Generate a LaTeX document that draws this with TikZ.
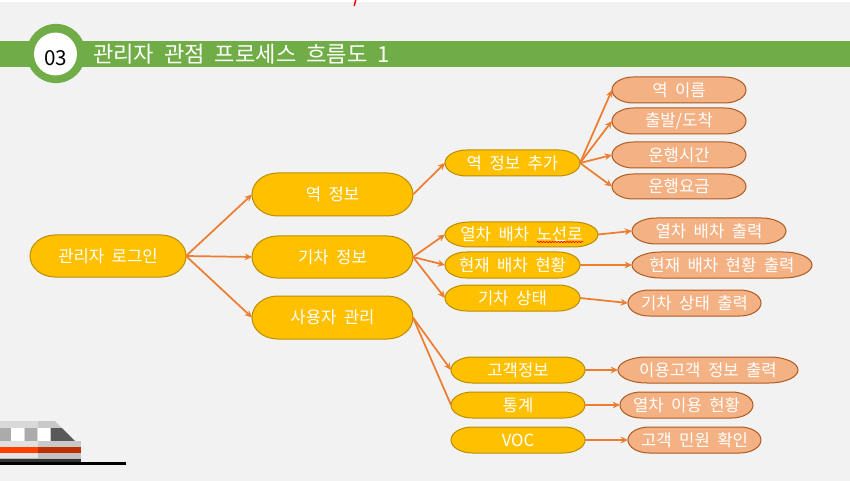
\documentclass[tikz,border=0pt]{standalone}
\usepackage{fontspec}
\setmainfont[WordSpace=2]{Noto Sans CJK KR}
\usetikzlibrary{arrows.meta,decorations.pathmorphing}
\definecolor{bg}{HTML}{F2F2F2}
\definecolor{barg}{HTML}{70AD47}
\definecolor{gold}{HTML}{FFC000}
\definecolor{goldl}{HTML}{BC8C00}
\definecolor{peach}{HTML}{F4B183}
\definecolor{peachl}{HTML}{AE5A21}
\definecolor{link}{HTML}{ED7D31}
\tikzset{
  pilltext/.style={rectangle,outer sep=0pt,inner sep=0pt,text=white,font=\fontsize{12.5pt}{14pt}\selectfont},
  goldfill/.style={fill=gold,draw=goldl,line width=0.75pt},
  peachfill/.style={fill=peach,draw=peachl,line width=0.75pt},
  conn/.style={draw=link,line width=1.3pt,-{Stealth[length=5.5pt,width=5pt]}},
  plainconn/.style={draw=link,line width=1.3pt},
}
% terminator: elliptical ends, arc radius 16% of the width
% args: style, name, cx, cy, w, h, text
\newcommand{\termnode}[7]{%
  \pgfmathsetmacro{\tw}{#5/2}\pgfmathsetmacro{\th}{#6/2}\pgfmathsetmacro{\tr}{#5*0.16}%
  \pgfmathsetmacro{\tin}{\tw-\tr}%
  \draw[#1] (#3-\tin,#4-\th) -- (#3+\tin,#4-\th)
     arc[start angle=-90,end angle=90,x radius=\tr*0.75pt,y radius=-\th*0.75pt]
     -- (#3-\tin,#4+\th)
     arc[start angle=90,end angle=270,x radius=\tr*0.75pt,y radius=-\th*0.75pt] -- cycle;
  \node[pilltext,minimum width=#5*0.75pt,minimum height=#6*0.75pt] (#2) at (#3,#4) {#7};
}
\begin{document}
\begin{tikzpicture}[x=0.75pt,y=-0.75pt]
\useasboundingbox (0,0) rectangle (850,481);
\fill[bg] (0,0) rectangle (850,481);
\fill[white] (0,0) rectangle (850,2);
\draw[red,line width=1.1pt] (355.8,0) -- (354.2,6);
% title
\fill[barg] (0,41) rectangle (850,67);
\fill[barg] (56,53.5) circle[radius=22.2pt];
\fill[white] (55.5,54) circle[radius=16.1pt];
\node[text=black,font=\fontsize{15.5pt}{16pt}\selectfont,inner sep=0pt] (num) at (55.5,58.5) {03};
\node[text=white,font=\fontsize{16.6pt}{18pt}\selectfont,anchor=west,inner sep=0pt] (title) at (93,54) {관리자 관점 프로세스 흐름도 1};
% train
\fill[gray!30] (0,421) rectangle (38,447);
\fill[black!21] (38,421) -- (55,421) -- (81,447) -- (38,447) -- cycle;
\fill[black!33] (0,428) rectangle (11,441);
\fill[white] (11,428) rectangle (24,441);
\fill[black!33] (25,428) rectangle (37,441);
\fill[white] (38,428) rectangle (50,441);
\fill[black!65] (51,428) -- (62,428) -- (75,441) -- (51,441) -- cycle;
\fill[black!12] (0,441) rectangle (38,447);
\fill[black!21] (38,441) rectangle (81,447);
\fill[black!10] (0,453) rectangle (38,458);
\fill[black!24] (38,453) rectangle (81,458);
\fill[black!25] (0,458) rectangle (81,459);
\fill[black!80] (0,459) rectangle (81,462);
\fill[red!50!orange] (0,447) rectangle (38,453);
\fill[red!50!orange!75!black] (38,447) rectangle (81,453);
\fill[black] (0,462) rectangle (126,465);
% nodes level 0-1
\termnode{goldfill}{admin}{108}{256}{156}{42}{관리자 로그인}
\termnode{goldfill}{station}{332.5}{194.5}{161}{43}{역 정보}
\termnode{goldfill}{train}{332.5}{257}{161}{42}{기차 정보}
\termnode{goldfill}{user}{332.5}{317.5}{161}{43}{사용자 관리}
% level 2
\termnode{goldfill}{addst}{512.5}{163}{135}{26}{역 정보 추가}
\termnode{goldfill}{route}{521.5}{234.5}{153}{25}{열차 배차 노선로}
\termnode{goldfill}{curr}{512.5}{265}{135}{26}{현재 배차 현황}
\termnode{goldfill}{state}{512.5}{298}{135}{26}{기차 상태}
\termnode{goldfill}{cust}{518}{370}{134}{26}{고객정보}
\termnode{goldfill}{stat}{518}{405}{134}{26}{통계}
\termnode{goldfill}{voc}{518}{440}{134}{26}{VOC}
% level 3
\termnode{peachfill}{name}{679}{90}{134}{26}{역 이름}
\termnode{peachfill}{dep}{679}{121}{134}{26}{출발/도착}
\termnode{peachfill}{time}{679}{155}{134}{26}{운행시간}
\termnode{peachfill}{fare}{679}{186.5}{134}{25}{운행요금}
\termnode{peachfill}{routeout}{709}{231}{154}{26}{열차 배차 출력}
\termnode{peachfill}{currout}{722}{265}{180}{26}{현재 배차 현황 출력}
\termnode{peachfill}{stateout}{694.5}{303}{133}{26}{기차 상태 출력}
\termnode{peachfill}{custout}{708}{370}{180}{26}{이용고객 정보 출력}
\termnode{peachfill}{statout}{686.5}{405}{133}{26}{열차 이용 현황}
\termnode{peachfill}{vocout}{694.5}{440}{133}{26}{고객 민원 확인}
% connectors
\draw[conn] (admin.east) -- (station.west);
\draw[conn] (admin.east) -- (train.west);
\draw[conn] (admin.east) -- (user.west);
\draw[conn] (station.east) -- (addst.west);
\draw[conn] (train.east) -- (route.west);
\draw[conn] (train.east) -- (curr.west);
\draw[conn] (train.east) -- (state.west);
\draw[conn] (user.east) -- (cust.west);
\draw[plainconn] (user.east) -- (stat.west);
\draw[conn] (addst.east) -- (name.west);
\draw[conn] (addst.east) -- (dep.west);
\draw[conn] (addst.east) -- (time.west);
\draw[conn] (addst.east) -- (fare.west);
\draw[conn] (route.east) -- (routeout.west);
\draw[conn] (curr.east) -- (currout.west);
\draw[conn] (state.east) -- (stateout.west);
\draw[conn] (cust.east) -- (custout.west);
\draw[conn] (stat.east) -- (statout.west);
\draw[conn] (voc.east) -- (vocout.west);
% spell-check underline
\draw[red,line width=0.5pt,decorate,decoration={snake,amplitude=0.5pt,segment length=2.2pt}] (537,242) -- (583,242);
\end{tikzpicture}
\end{document}
